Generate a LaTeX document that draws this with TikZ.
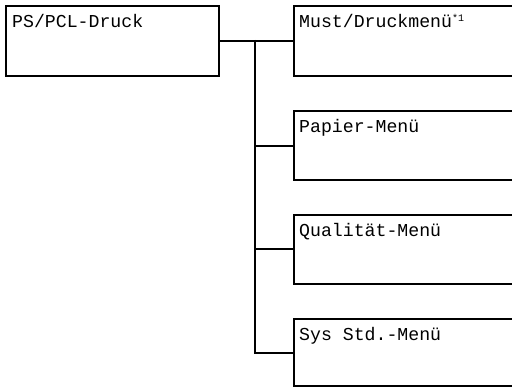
\documentclass[tikz,border=0pt]{standalone}
\usepackage{fontspec}
\setmonofont{Liberation Mono}
\begin{document}
\begin{tikzpicture}[x=1pt,y=-1pt,
  box/.style={draw=black,line width=1.8pt,rectangle,inner sep=0pt,anchor=north west},
  lbl/.style={anchor=base west,inner sep=0pt,font=\fontsize{18.2}{20}\ttfamily},
  conn/.style={draw=black,line width=1.8pt}]
\clip (0,0) rectangle (512,387);
\useasboundingbox (0,0) rectangle (512,387);
\node[box,minimum width=213pt,minimum height=70pt] (L) at (5,5) {};
\node[box,minimum width=230pt,minimum height=70pt] (R1) at (293,5) {};
\node[box,minimum width=230pt,minimum height=69.5pt] (R2) at (293,110) {};
\node[box,minimum width=230pt,minimum height=69pt] (R3) at (293,214) {};
\node[box,minimum width=230pt,minimum height=67.5pt] (R4) at (293,318) {};
\node[lbl] (tL) at ([xshift=7pt,yshift=-23pt]L.north west) {PS/PCL-Druck};
\node[lbl] (t1) at ([xshift=6pt,yshift=-23pt]R1.north west) {Must/Druckmenü\textsuperscript{\fontsize{10}{10}\selectfont *1}};
\node[lbl] (t2) at ([xshift=6pt,yshift=-23pt]R2.north west) {Papier-Menü};
\node[lbl] (t3) at ([xshift=6pt,yshift=-23pt]R3.north west) {Qualität-Menü};
\node[lbl] (t4) at ([xshift=6pt,yshift=-23pt]R4.north west) {Sys Std.-Menü};
\coordinate (j) at (255,40);
\draw[conn] (L.east) -- (R1.west);
\draw[conn] (j) |- (R4.west);
\draw[conn] (j |- R2.west) -- (R2.west);
\draw[conn] (j |- R3.west) -- (R3.west);
\end{tikzpicture}
\end{document}
